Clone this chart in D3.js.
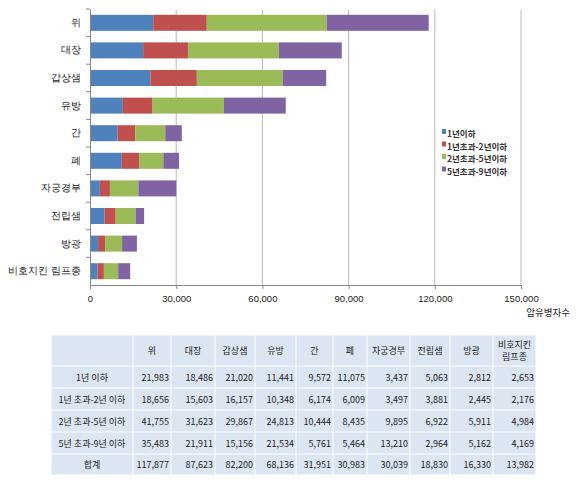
<!DOCTYPE html>
<html><head><meta charset="utf-8">
<script src="https://cdn.jsdelivr.net/npm/d3@7"></script>
<style>body{margin:0;background:#fff;font-family:"Noto Sans CJK KR","Noto Sans",sans-serif;}</style>
</head><body>
<svg id="c" width="577" height="487"></svg>
<script>
// data
const categories = ['위','대장','갑상샘','유방','간','폐','자궁경부','전립샘','방광','비호지킨 림프종'];
const seriesNames = ['1년이하','1년초과-2년이하','2년초과-5년이하','5년초과-9년이하'];
const rowNames = ['1년 이하','1년 초과-2년 이하','2년 초과-5년 이하','5년 초과-9년 이하'];
const y1 = [21983,18486,21020,11441,9572,11075,3437,5063,2812,2653];
const y2 = [18656,15603,16157,10348,6174,6009,3497,3881,2445,2176];
const y5 = [41755,31623,29867,24813,10444,8435,9895,6922,5911,4984];
const y9 = [35483,21911,15156,21534,5761,5464,13210,2964,5162,4169];
const totals = [117877,87623,82200,68136,31951,30983,30039,18830,16330,13982];
const xTicks = [0,30000,60000,90000,120000,150000];
const colors = ['#4f81bd','#c0504d','#9bbb59','#8064a2'];

const svg = d3.select('#c');
const series = [y1,y2,y5,y9];
const x = d3.scaleLinear().domain([0,150000]).range([90,521]);
const y = d3.scaleBand().domain(categories).range([9,285]).paddingInner(0.42).paddingOuter(0.21);

// grid
svg.append('g').selectAll('line').data(xTicks.slice(1)).join('line')
  .attr('x1',d=>x(d)).attr('x2',d=>x(d)).attr('y1',10).attr('y2',285)
  .attr('stroke','#a6a6a6').attr('stroke-width',0.8);

const stack = d3.stack().keys([0,1,2,3]).value((d,k)=>series[k][d]);
const layers = stack(d3.range(categories.length));
svg.append('g').selectAll('g').data(layers).join('g').attr('fill',(d,i)=>colors[i])
  .selectAll('rect').data(d=>d).join('rect')
  .attr('x',d=>x(d[0])).attr('width',d=>x(d[1])-x(d[0]))
  .attr('y',(d,i)=>y(categories[i])).attr('height',y.bandwidth());

const yAx = svg.append('g').attr('transform','translate(90,0)')
  .call(d3.axisLeft(y).tickSize(0).tickSizeOuter(0).tickPadding(9));
yAx.selectAll('text').attr('font-size',9.5).attr('fill','#222');
yAx.select('.domain').attr('stroke','#888');
// band separators
svg.append('g').selectAll('line').data(categories).join('line')
  .attr('x1',86).attr('x2',90).attr('y1',d=>y(d)-y.step()*y.paddingInner()/2).attr('y2',d=>y(d)-y.step()*y.paddingInner()/2)
  .attr('stroke','#888');

const xAx = svg.append('g').attr('transform','translate(0,285)')
  .call(d3.axisBottom(x).tickValues(xTicks).tickFormat(d3.format(',')).tickSize(4).tickPadding(6));
xAx.selectAll('text').attr('font-size',9.5).attr('fill','#222');
xAx.select('.domain').attr('stroke','#888');
xAx.selectAll('line').attr('stroke','#888');
svg.append('text').attr('x',570).attr('y',316).attr('text-anchor','end').attr('font-size',9.5).attr('fill','#222').text('암유병자수');

// legend
const lg = svg.append('g').attr('transform','translate(442,128)');
seriesNames.forEach((s,i)=>{
  lg.append('rect').attr('x',0).attr('y',i*12.5+1).attr('width',4).attr('height',5).attr('fill',colors[i]);
  lg.append('text').attr('x',5).attr('y',i*12.5+9).attr('font-size',8.5).attr('font-weight','bold').attr('fill','#333').text(s);
});

// table
const colX = [51,133,171,215,255,296,333,367,410,450,493,536];
const rowY = [335,366,388,410,432,454,475];
const fmt = d3.format(',');
const tableRows = [y1,y2,y5,y9,totals];
const labels = rowNames.concat(['합계']);
const t = svg.append('g');
for(let r=0;r<6;r++) for(let c=0;c<11;c++){
  t.append('rect').attr('x',colX[c]+0.5).attr('y',rowY[r]+0.5)
    .attr('width',colX[c+1]-colX[c]-1).attr('height',rowY[r+1]-rowY[r]-1)
    .attr('fill','#dce6f2');
}
categories.forEach((cat,c)=>{
  const cx=(colX[c+1]+colX[c+2])/2;
  if(cat==='비호지킨 림프종'){
    t.append('text').attr('x',cx).attr('y',348).attr('text-anchor','middle').attr('font-size',9).text('비호지킨');
    t.append('text').attr('x',cx).attr('y',360).attr('text-anchor','middle').attr('font-size',9).text('림프종');
  } else t.append('text').attr('x',cx).attr('y',354).attr('text-anchor','middle').attr('font-size',9).text(cat);
});
tableRows.forEach((vals,r)=>{
  const yy=(rowY[r+1]+rowY[r+2])/2+3.5;
  t.append('text').attr('x',(colX[0]+colX[1])/2).attr('y',yy).attr('text-anchor','middle').attr('font-size',9).text(labels[r]);
  vals.forEach((v,c)=>t.append('text').attr('x',colX[c+2]-2).attr('y',yy).attr('text-anchor','end').attr('font-size',9).text(fmt(v)));
});
t.selectAll('text').attr('fill','#222');
</script>
</body></html>
